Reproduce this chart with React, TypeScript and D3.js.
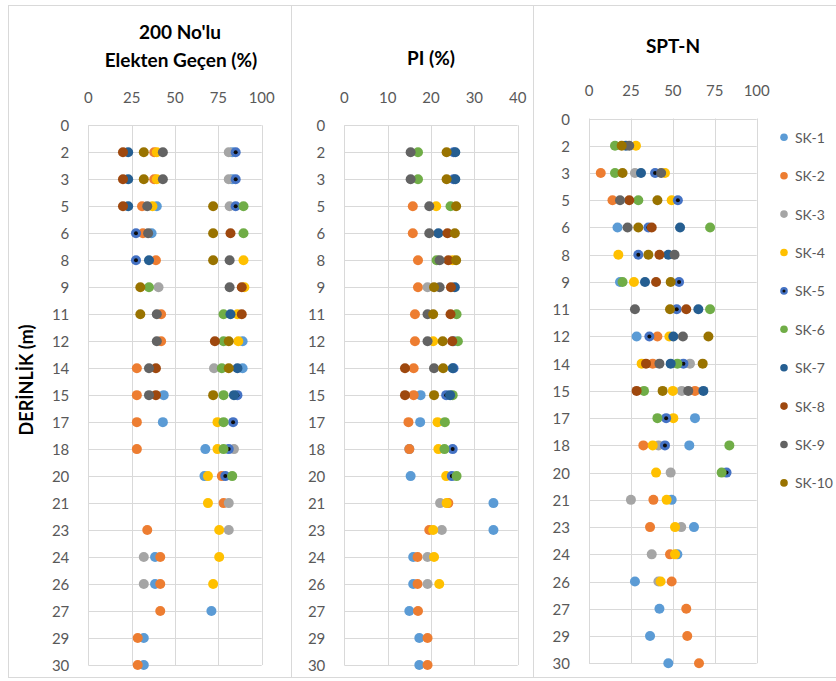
import React from 'react';
import * as d3 from 'd3';

const _ = null;

// Depths (m); labels are rounded to integers like the original axis
const depths = [1.5, 3, 4.5, 6, 7.5, 9, 10.5, 12, 13.5, 15, 16.5, 18, 19.5, 21, 22.5, 24, 25.5, 27, 28.5, 30];
const depthTicks = [0, ...depths];

const seriesNames = ['SK-1', 'SK-2', 'SK-3', 'SK-4', 'SK-5', 'SK-6', 'SK-7', 'SK-8', 'SK-9', 'SK-10'];
const seriesColors = ['#5B9BD5', '#ED7D31', '#A5A5A5', '#FFC000', '#4472C4', '#70AD47', '#255E91', '#9E480E', '#636363', '#997300'];

const finesTicks = [0, 25, 50, 75, 100];
const piTicks = [0, 10, 20, 30, 40];
const sptTicks = [0, 25, 50, 75, 100];

// 200 No'lu Elekten Geçen (%) — rows SK-1..SK-10, columns follow depths
const finesValues: (number | null)[][] = [
  [83, 83, 39.5, 36.5, _, _, _, 89, 89, 43.5, 43, 67.5, 67, _, _, 38.5, 38.5, 71, 32, 32],
  [38, 38, 31, 31.5, 39, _, 42, 42, 28, 28, 28, 28, 77, 78, 34, 41.5, 41.5, 41.5, 28.5, 28.5],
  [81, 81, 81.5, _, _, 40.5, _, _, 72.5, _, _, 84, _, 81, 81, 32, 32, _, _, _],
  [39.5, 39.5, 37, _, 89.5, 90, 86, 86.5, _, _, 74.5, 74.5, 69, 69, 75.5, 75.5, 72, _, _, _],
  [85, 85, 85, 27.5, 27.5, _, _, _, _, 86, 83.5, 81, 79, _, _, _, _, _, _, _],
  [_, _, 89.5, 89.5, _, 35, 78, 78, 77, 78, 78, 78, 83, _, _, _, _, _, _, _],
  [23, 23, 23, _, 35, _, 82, _, 86, 84, _, _, _, _, _, _, _, _, _, _],
  [20, 20, 20, 82, _, 88.5, 88.5, 73, 39, 39, _, _, _, _, _, _, _, _, _, _],
  [43, 43, 34, 34.5, 81.5, 81.5, 39.5, 39.5, 35, 35, _, _, _, _, _, _, _, _, _, _],
  [32, 32, 72, 72, 72, 30, 30, 81, 81, 72, _, _, _, _, _, _, _, _, _, _],
];

// PI (%)
const piValues: (number | null)[][] = [
  [_, _, _, _, _, _, _, _, _, 17.6, 17.5, 15, 15.3, 34.4, 34.4, 15.9, 15.9, 15, 17.3, 17.3],
  [_, _, 15.8, 15.8, 17, 17, 16.3, 16.3, 16, 16, 14.8, 15, _, 24, 19.6, 16.9, 16.9, 17, 19.2, 19.2],
  [_, _, _, _, _, 19.2, _, _, _, _, _, _, _, 22.1, 22.5, 19.2, 19.2, _, _, _],
  [_, _, 21.2, _, 25, _, _, 20.5, _, _, 21.5, 21.7, 23.5, 23.6, 20.5, 20.7, 21.9, _, _, _],
  [25.2, 25.2, _, _, _, _, _, 25.2, 25.2, 23.5, _, 25, 24.8, _, _, _, _, _, _, _],
  [17, 17, 24.5, _, 21.3, _, 25.9, 26.2, _, 25, 23.2, 23.1, 25.9, _, _, _, _, _, _, _],
  [25.6, 25.6, _, 21.7, _, 25.5, _, _, 25, 24.4, _, _, _, _, _, _, _, _, _, _],
  [_, _, _, 23.8, 24, 24.6, 24.5, 24.9, 14, 14, _, _, _, _, _, _, _, _, _, _],
  [15.3, 15.3, 19.6, 19.6, 22, 22, 19.2, 19.2, 20.7, _, _, _, _, _, _, _, _, _, _, _],
  [23.6, 23.6, 25.8, 25.5, 25.8, 20.7, 20.5, 22.7, 22.8, 20.7, _, _, _, _, _, _, _, _, _, _],
];

// SPT-N
const sptValues: (number | null)[][] = [
  [_, _, _, 17, _, 18.5, _, 28.4, _, _, 63.2, 59.8, _, 49.3, 62.6, 52.7, 27.4, 42, 36.4, 47.3],
  [_, 7, 14, _, _, _, _, 40.8, 38, 63.2, _, 32.4, _, 38.4, 36.4, 48.3, 49.3, 58, 58.6, 65.6],
  [_, 27.4, _, _, _, _, _, _, 60.2, 55.3, _, 41.4, 48.7, 25, 55, 37.4, 41.4, _, _, _],
  [28, 45.3, 49.3, _, 17.5, 26.8, _, 47.9, 31.4, 50, 50.3, 38, 40, 46.3, 51.3, 51.3, 42.7, _, _, _],
  [_, 39.4, 53, 35.4, 29.4, 53.7, 52.3, 36, 56.3, _, 46, 45.3, 82, _, _, _, _, _, _, _],
  [15.5, 15.5, 29.4, 72.2, _, 20, 72.2, _, 52.7, 32.8, 40.8, 83.7, 79.1, _, _, _, _, _, _, _],
  [22, 31, _, 54.3, 47.3, 33.4, 65.2, 50.3, 48.7, 68.2, _, _, _, _, _, _, _, _, _, _],
  [_, _, 24, 37.4, 42, 40, 58, _, 34, 28.4, _, _, _, _, _, _, _, _, _, _],
  [24, 43, 18.5, 23, 51, _, 27.4, 56, 42, 59.2, _, _, _, _, _, _, _, _, _, _],
  [19.5, 20, 40.8, 29.4, 35.4, 48.7, 48.3, 71.2, 67.8, 43.9, _, _, _, _, _, _, _, _, _, _],
];

const FONT = 'Lato, "Open Sans", sans-serif';
const GRID = '#D9D9D9';
const TICK = '#595959';

type PanelProps = {
  x0: number; x1: number; y0: number; y1: number;
  domain: [number, number]; ticks: number[];
  values: (number | null)[][];
  tickY: number;
};

function Marker({ cx, cy, i, r = 5 }: { cx: number; cy: number; i: number; r?: number }) {
  return (
    <g>
      <circle cx={cx} cy={cy} r={r} fill={seriesColors[i]} />
      {i === 4 && <circle cx={cx} cy={cy} r={r * 0.4} fill="#0d0d0d" />}
    </g>
  );
}

function Panel({ x0, x1, y0, y1, domain, ticks, values, tickY }: PanelProps) {
  const x = d3.scaleLinear().domain(domain).range([x0, x1]);
  const y = d3.scaleLinear().domain([0, 30]).range([y0, y1]);
  const px = (v: number) => Math.round(v) + 0.5;
  return (
    <g>
      {depthTicks.map((d) => (
        <line key={'h' + d} x1={x0} x2={x1} y1={px(y(d))} y2={px(y(d))} stroke={GRID} strokeWidth={1} />
      ))}
      {ticks.map((t) => (
        <line key={'v' + t} x1={px(x(t))} x2={px(x(t))} y1={y0} y2={y1} stroke={GRID} strokeWidth={1} />
      ))}
      {ticks.map((t) => (
        <text key={'t' + t} x={x(t)} y={tickY} textAnchor="middle" dominantBaseline="central"
          fontFamily={FONT} fontSize={15} fill={TICK}>{t}</text>
      ))}
      {depthTicks.map((d) => (
        <text key={'d' + d} x={x0 - 19} y={y(d)} textAnchor="end" dominantBaseline="central"
          fontFamily={FONT} fontSize={15} fill={TICK}>{Math.round(d)}</text>
      ))}
      {values.map((row, i) => (
        <g key={'s' + i}>
          {row.map((v, j) => v == null ? null : (
            <Marker key={j} cx={x(v)} cy={y(depths[j])} i={i} />
          ))}
        </g>
      ))}
    </g>
  );
}

export default function App() {
  const titleStyle = { fontFamily: FONT, fontWeight: 700, fontSize: 19, fill: '#000' } as const;
  return (
    <svg width={836} height={681} style={{ position: 'absolute', left: 0, top: 0, background: '#fff' }}>
      <rect x={0} y={0} width={836} height={681} fill="#fff" />
      <rect x={8.5} y={5.5} width={283} height={672} fill="none" stroke={GRID} />
      <rect x={291.5} y={5.5} width={242} height={672} fill="none" stroke={GRID} />
      <rect x={533.5} y={5.5} width={320} height={672} fill="none" stroke={GRID} />

      <text x={180} y={31} textAnchor="middle" dominantBaseline="central" {...titleStyle}>200 No'lu</text>
      <text x={181} y={59} textAnchor="middle" dominantBaseline="central" {...titleStyle}>Elekten Geçen (%)</text>
      <text x={431} y={57} textAnchor="middle" dominantBaseline="central" {...titleStyle}>PI (%)</text>
      <text x={673} y={45} textAnchor="middle" dominantBaseline="central" {...titleStyle}>SPT-N</text>

      <text transform="translate(26,380) rotate(-90)" textAnchor="middle" dominantBaseline="central"
        fontFamily={FONT} fontWeight={700} fontSize={18} fill="#000">DERİNLİK (m)</text>

      <Panel x0={88.3} x1={261.7} y0={125.3} y1={665} domain={[0, 100]} ticks={finesTicks} values={finesValues} tickY={97} />
      <Panel x0={344.3} x1={517.7} y0={125.3} y1={665} domain={[0, 40]} ticks={piTicks} values={piValues} tickY={97} />
      <Panel x0={589} x1={756.7} y0={118.5} y1={663.3} domain={[0, 100]} ticks={sptTicks} values={sptValues} tickY={90} />

      {seriesNames.map((name, i) => {
        const ly = 137.3 + i * 38.4;
        return (
          <g key={name}>
            <Marker cx={784} cy={ly} i={i} r={3.8} />
            <text x={795} y={ly} dominantBaseline="central" fontFamily={FONT} fontSize={14} fill={TICK}>{name}</text>
          </g>
        );
      })}
    </svg>
  );
}
